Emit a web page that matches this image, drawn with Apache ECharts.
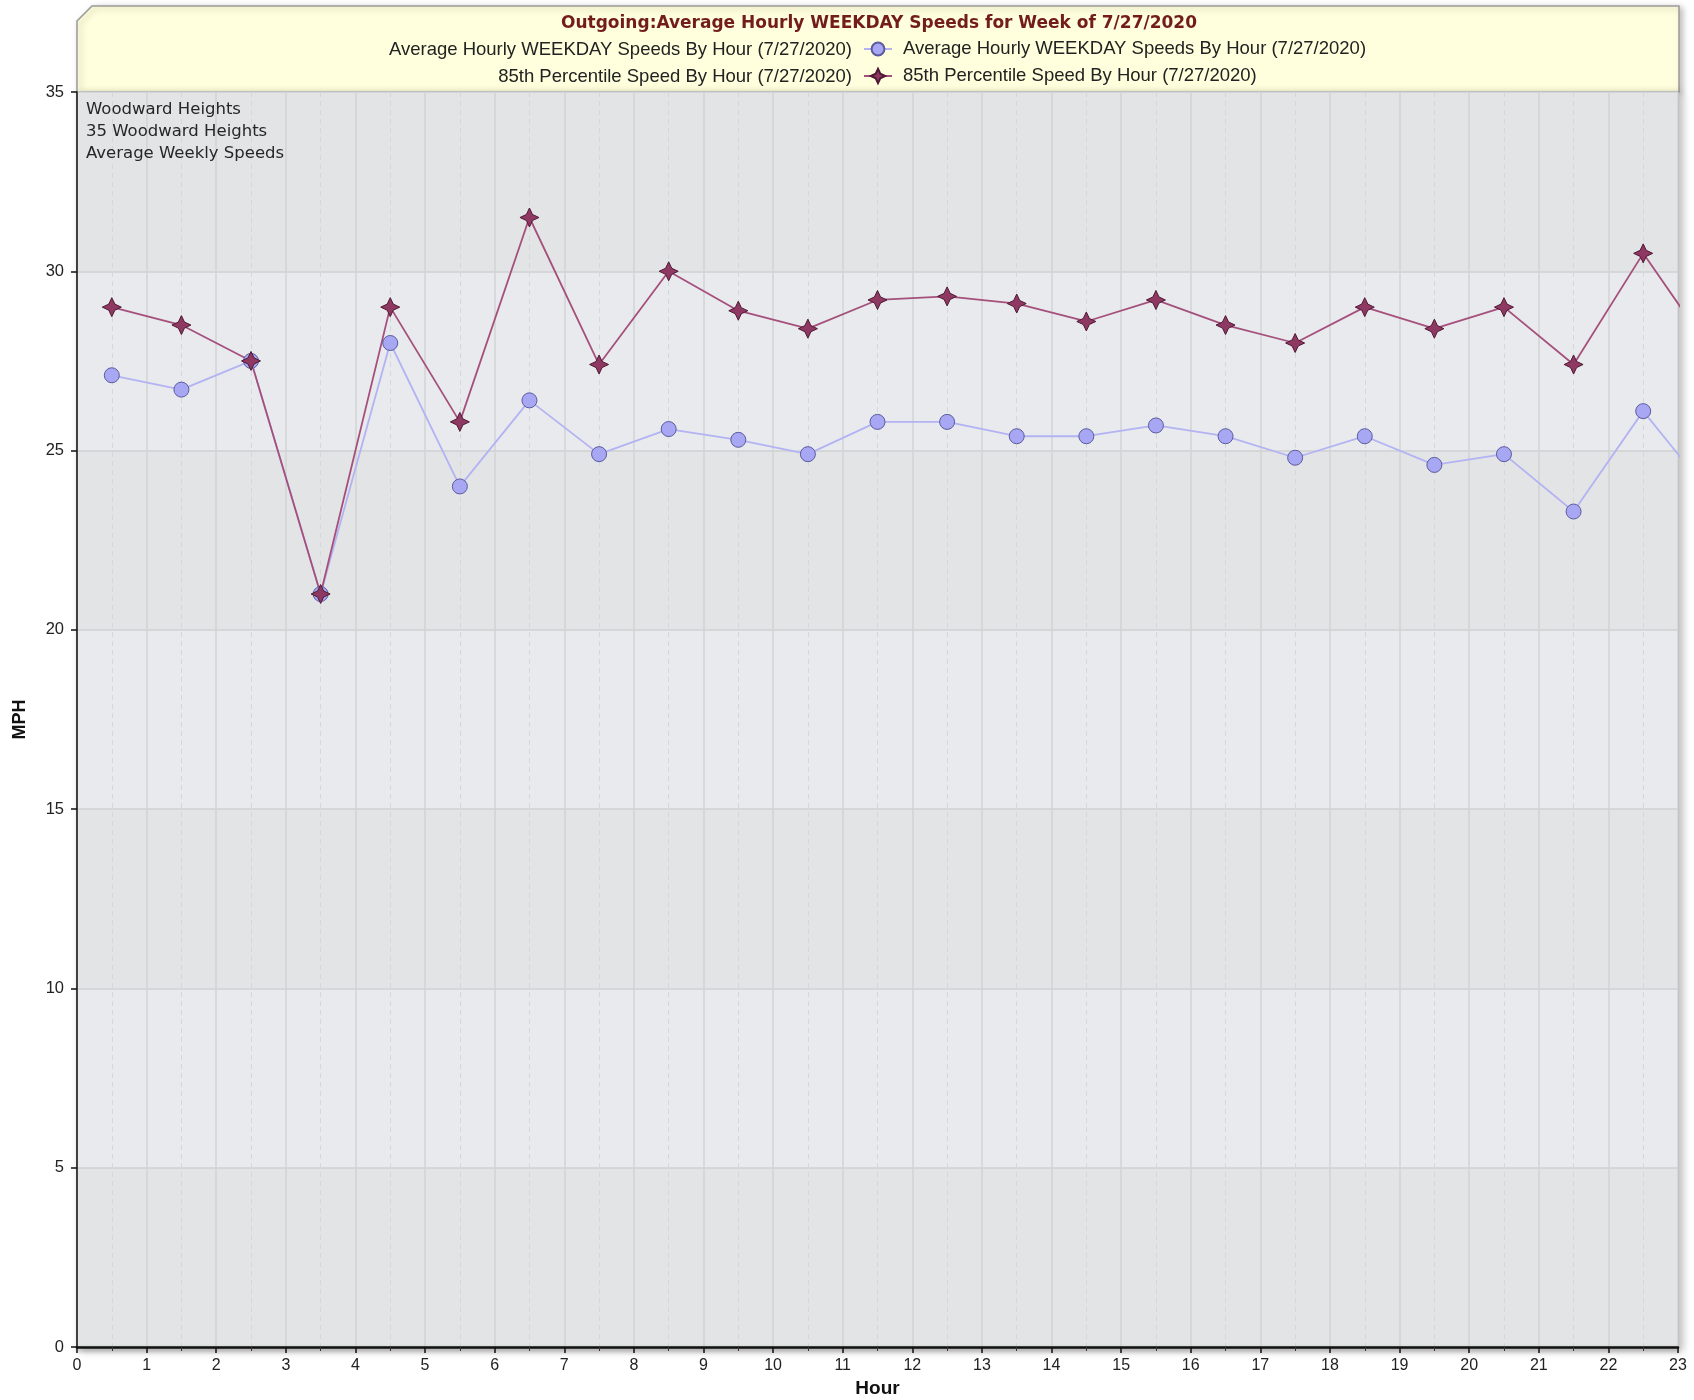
<!DOCTYPE html>
<html>
<head>
<meta charset="utf-8">
<title>Outgoing Average Hourly WEEKDAY Speeds</title>
<script src="https://cdn.jsdelivr.net/npm/echarts@6.0.0/dist/echarts.min.js"></script>
<style>
  html, body { margin: 0; padding: 0; background: #fff; }
  #chart { width: 1694px; height: 1400px; }
</style>
</head>
<body>
<div id="chart"></div>
<script>
// hour positions (points sit in the middle of each hour)
const hours = [0.5, 1.5, 2.5, 3.5, 4.5, 5.5, 6.5, 7.5, 8.5, 9.5, 10.5, 11.5,
  12.5, 13.5, 14.5, 15.5, 16.5, 17.5, 18.5, 19.5, 20.5, 21.5, 22.5, 23.5]
const avgSpeed = [27.1, 26.7, 27.5, 21.0, 28.0, 24.0, 26.4, 24.9, 25.6, 25.3, 24.9, 25.8,
  25.8, 25.4, 25.4, 25.7, 25.4, 24.8, 25.4, 24.6, 24.9, 23.3, 26.1, 23.7]
const pct85Speed = [29.0, 28.5, 27.5, 21.0, 29.0, 25.8, 31.5, 27.4, 30.0, 28.9, 28.4, 29.2,
  29.3, 29.1, 28.6, 29.2, 28.5, 28.0, 29.0, 28.4, 29.0, 27.4, 30.5, 27.7]

const titleText = "Outgoing:Average Hourly WEEKDAY Speeds for Week of 7/27/2020"
const avgName = "Average Hourly WEEKDAY Speeds By Hour (7/27/2020)"
const pctName = "85th Percentile Speed By Hour (7/27/2020)"
const noteLines = ["Woodward Heights", "35 Woodward Heights", "Average Weekly Speeds"]

const STAR = "path://M0,-10 L3.2,-3.2 L10,0 L3.2,3.2 L0,10 L-3.2,3.2 L-10,0 L-3.2,-3.2 Z"
const legendFont = { fontFamily: "Liberation Sans", fontSize: 18.5, color: "#222" }

let chart = echarts.init(document.getElementById("chart"))

chart.setOption({
  animation: false,
  backgroundColor: "#fff",
  title: {
    text: titleText,
    left: 561,
    top: 15,
    padding: 0,
    textStyle: {
      fontFamily: "DejaVu Sans",
      fontWeight: "bold",
      fontSize: 17,
      color: "#731c1c"
    }
  },
  legend: [{
    data: [avgName],
    left: 863,
    top: 39.5,
    padding: 0,
    itemWidth: 28,
    itemHeight: 16,
    textStyle: Object.assign({ padding: [0, 0, 0, 6] }, legendFont)
  }, {
    data: [pctName],
    left: 863,
    top: 66.5,
    padding: 0,
    itemWidth: 28,
    itemHeight: 18,
    textStyle: Object.assign({ padding: [0, 0, 0, 6] }, legendFont)
  }],
  graphic: [
    {
      // header box with cut corner
      type: "polygon",
      z: -1,
      shape: { points: [[77, 21], [92, 6], [1679, 6], [1679, 92], [77, 92]] },
      style: {
        fill: "#ffffdd",
        stroke: "#9a9a9a",
        lineWidth: 1.5,
        shadowColor: "rgba(0,0,0,0.25)",
        shadowBlur: 6,
        shadowOffsetX: 3,
        shadowOffsetY: 2
      }
    },
    {
      type: "text",
      x: 852, y: 50,
      style: { text: avgName, align: "right", verticalAlign: "middle",
        font: "18.5px 'Liberation Sans'", fill: "#222" }
    },
    {
      type: "text",
      x: 852, y: 77,
      style: { text: pctName, align: "right", verticalAlign: "middle",
        font: "18.5px 'Liberation Sans'", fill: "#222" }
    },
    {
      type: "text",
      x: 86, y: 99,
      z: 10,
      style: {
        text: noteLines.join("\n"),
        font: "16.5px 'DejaVu Sans'",
        lineHeight: 22,
        fill: "#262626"
      }
    }
  ],
  grid: {
    left: 77,
    right: 16,
    top: 92,
    bottom: 53,
    containLabel: false,
    outerBoundsMode: "none",
    show: true,
    backgroundColor: "#e6e7e9",
    borderColor: "#8a8a8a",
    borderWidth: 1.5,
    shadowColor: "rgba(0,0,0,0.25)",
    shadowBlur: 8,
    shadowOffsetX: 4,
    shadowOffsetY: 3
  },
  xAxis: {
    type: "value",
    min: 0,
    max: 23,
    interval: 1,
    name: "Hour",
    nameLocation: "middle",
    nameGap: 29,
    nameTextStyle: {
      fontFamily: "Liberation Sans",
      fontWeight: "bold",
      fontSize: 19,
      color: "#111"
    },
    axisLine: {
      lineStyle: {
        color: "#111",
        width: 2.5,
        shadowColor: "rgba(0,0,0,0.3)",
        shadowBlur: 4,
        shadowOffsetY: 2
      }
    },
    axisTick: { length: 6, lineStyle: { color: "#111", width: 1.5 } },
    minorTick: { show: true, splitNumber: 2, length: 4, lineStyle: { color: "#333" } },
    axisLabel: {
      margin: 11,
      fontFamily: "Liberation Sans",
      fontSize: 16,
      color: "#222"
    },
    splitLine: { show: true, lineStyle: { color: "#d2d3d5", width: 1.5 } },
    minorSplitLine: { show: true, lineStyle: { color: "#d6d7da", type: [5, 4], width: 1 } }
  },
  yAxis: {
    type: "value",
    min: 0,
    max: 35,
    interval: 5,
    name: "MPH",
    nameLocation: "middle",
    nameGap: 48,
    nameTextStyle: {
      fontFamily: "Liberation Sans",
      fontWeight: "bold",
      fontSize: 18,
      color: "#111"
    },
    axisLine: { show: true, lineStyle: { color: "#111", width: 1.5 } },
    axisTick: { show: true, length: 6, lineStyle: { color: "#111", width: 1.5 } },
    axisLabel: {
      margin: 13,
      fontFamily: "Liberation Sans",
      fontSize: 16.5,
      color: "#222"
    },
    splitLine: { lineStyle: { color: "#cfd0d2", width: 1.5 } },
    splitArea: { show: true, areaStyle: { color: ["#e3e4e6", "#e8eaed"] } }
  },
  series: [
    {
      name: avgName,
      type: "line",
      data: hours.map((h, i) => [h, avgSpeed[i]]),
      clip: true,
      symbol: "circle",
      symbolSize: 15,
      lineStyle: { color: "#b3b3f3", width: 1.8 },
      itemStyle: { color: "#a7a7f4", borderColor: "#5b5b9e", borderWidth: 1 }
    },
    {
      name: pctName,
      type: "line",
      data: hours.map((h, i) => [h, pct85Speed[i]]),
      clip: true,
      symbol: STAR,
      symbolSize: 19,
      lineStyle: { color: "#a5507c", width: 1.8 },
      itemStyle: { color: "#8e3862", borderColor: "#4e1a36", borderWidth: 1 }
    }
  ]
})
</script>
</body>
</html>
